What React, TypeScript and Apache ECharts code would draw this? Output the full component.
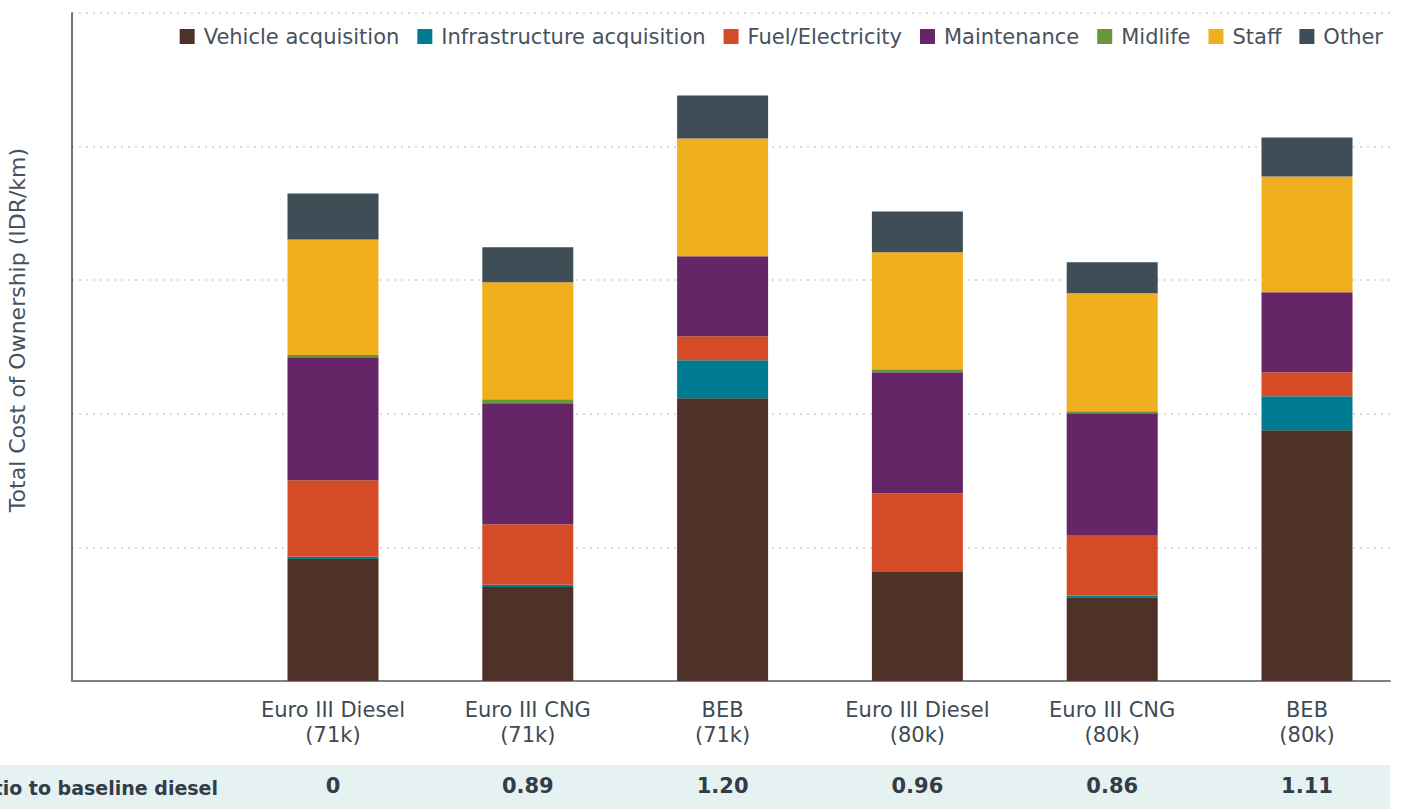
import React, { useEffect, useRef } from "react";
import * as echarts from "echarts";

const categories = [
  "Euro III Diesel\n(71k)",
  "Euro III CNG\n(71k)",
  "BEB\n(71k)",
  "Euro III Diesel\n(80k)",
  "Euro III CNG\n(80k)",
  "BEB\n(80k)",
];
const ratios = ["0", "0.89", "1.20", "0.96", "0.86", "1.11"];

const vehicleAcquisition = [1825, 1406, 4233, 1630, 1252, 3754];
const infrastructureAcquisition = [34, 34, 568, 0, 24, 509];
const fuelElectricity = [1147, 908, 359, 1182, 908, 359];
const maintenance = [1840, 1810, 1197, 1810, 1825, 1197];
const midlife = [34, 60, 0, 45, 30, 0];
const staff = [1731, 1750, 1765, 1750, 1765, 1735];
const other = [688, 524, 643, 613, 464, 583];

const seriesDefs = [
  { name: "Vehicle acquisition", data: vehicleAcquisition, color: "#4E3127" },
  { name: "Infrastructure acquisition", data: infrastructureAcquisition, color: "#007C92" },
  { name: "Fuel/Electricity", data: fuelElectricity, color: "#D64B27" },
  { name: "Maintenance", data: maintenance, color: "#662567" },
  { name: "Midlife", data: midlife, color: "#6A953B" },
  { name: "Staff", data: staff, color: "#F0AF1E" },
  { name: "Other", data: other, color: "#3F4D57" },
];

const FONT = "'DejaVu Sans', sans-serif";
const TEXT = "#46525d";

export default function App() {
  const ref = useRef<HTMLDivElement>(null);
  useEffect(() => {
    if (!ref.current) return;
    const chart = echarts.init(ref.current, null, { renderer: "svg" });
    chart.setOption({
      animation: false,
      textStyle: { fontFamily: FONT },
      legend: {
        right: 20,
        top: 21,
        icon: "rect",
        itemWidth: 15,
        itemHeight: 15,
        itemGap: 18,
        textStyle: { fontSize: 21, color: TEXT, fontFamily: FONT, padding: [0, 0, 0, 4] },
        data: seriesDefs.map((s) => s.name),
      },
      grid: [
        { left: 72, right: 18, top: 13, bottom: 128 },
        { left: 235.6, right: 3.6, top: 13, bottom: 128 },
      ],
      xAxis: [
        {
          gridIndex: 0,
          type: "category",
          data: [""],
          axisLine: { show: true, lineStyle: { color: "#7a8288", width: 2 } },
          axisTick: { show: false },
          axisLabel: { show: false },
        },
        {
          gridIndex: 1,
          type: "category",
          data: categories,
          axisLine: { show: false },
          axisTick: { show: false },
          axisLabel: {
            margin: 16,
            fontSize: 21,
            lineHeight: 25,
            color: "#3f4a54",
            fontFamily: FONT,
          },
        },
        {
          gridIndex: 1,
          type: "category",
          data: ratios,
          position: "bottom",
          offset: 94,
          axisLine: { show: false },
          axisTick: { show: false },
          axisLabel: {
            margin: 0,
            fontSize: 21,
            fontWeight: "bold",
            color: "#333d47",
            fontFamily: FONT,
          },
        },
      ],
      yAxis: [
        {
          gridIndex: 0,
          type: "value",
          min: 0,
          max: 10000,
          interval: 2000,
          axisLabel: { show: false },
          axisTick: { show: false },
          axisLine: { show: true, lineStyle: { color: "#3f4a54", width: 1.5 } },
          splitLine: { show: true, lineStyle: { color: "#cfcfcf", type: [2, 5], width: 1.5 } },
        },
        {
          gridIndex: 1,
          type: "value",
          min: 0,
          max: 10000,
          interval: 2000,
          show: false,
          splitLine: { show: false },
        },
      ],
      graphic: [
        {
          type: "rect",
          z: -1,
          shape: { x: 0, y: 765, width: 1390, height: 44 },
          style: { fill: "#E6F1F2" },
        },
        {
          type: "text",
          x: 218,
          y: 788,
          style: {
            text: "Ratio to baseline diesel",
            align: "right",
            verticalAlign: "middle",
            fontSize: 19,
            fontWeight: "bold",
            fill: "#333d47",
            fontFamily: FONT,
          },
        },
        {
          type: "text",
          x: 17,
          y: 330,
          rotation: Math.PI / 2,
          style: {
            text: "Total Cost of Ownership (IDR/km)",
            align: "center",
            verticalAlign: "middle",
            fontSize: 22,
            fill: TEXT,
            fontFamily: FONT,
          },
        },
      ],
      series: seriesDefs.map((s) => ({
        name: s.name,
        type: "bar",
        stack: "total",
        xAxisIndex: 1,
        yAxisIndex: 1,
        barWidth: 91,
        data: s.data,
        itemStyle: { color: s.color },
        emphasis: { disabled: true },
      })),
    });
    return () => chart.dispose();
  }, []);
  return <div ref={ref} style={{ width: 1408, height: 809, position: "absolute", left: 0, top: 0 }} />;
}
